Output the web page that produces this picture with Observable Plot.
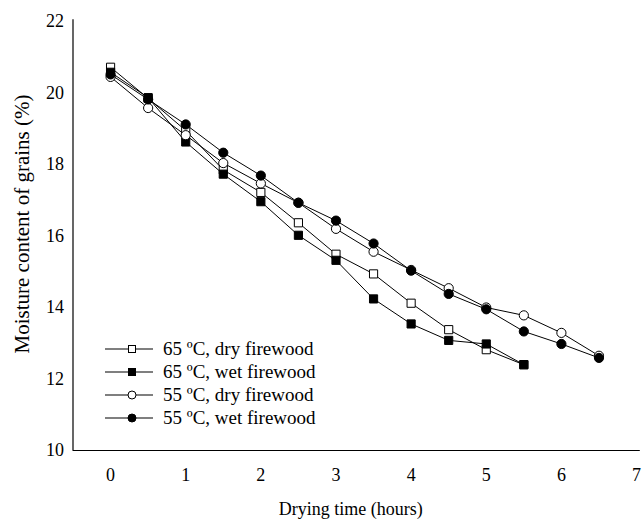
<!DOCTYPE html>
<html>
<head>
<meta charset="utf-8">
<script src="https://cdn.jsdelivr.net/npm/d3@7"></script>
<script src="https://cdn.jsdelivr.net/npm/@observablehq/plot@0.6"></script>
<style>
  html, body { margin: 0; padding: 0; background: #fff; }
  #wrap { position: relative; width: 644px; height: 522px; font-family: "Liberation Serif", "Times New Roman", serif; }
  #legend { position: absolute; left: 104px; top: 337px; }
  .row { display: flex; align-items: center; height: 23px; font-size: 19px; color: #000; }
  .row svg { margin-right: 9px; }
</style>
</head>
<body>
<div id="wrap"></div>
<script>
const times = [0, 0.5, 1, 1.5, 2, 2.5, 3, 3.5, 4, 4.5, 5, 5.5, 6, 6.5];
const dry65 = [20.72, 19.85, 18.95, 17.85, 17.22, 16.37, 15.49, 14.94, 14.12, 13.38, 12.82, 12.40];
const wet65 = [20.58, 19.87, 18.63, 17.73, 16.96, 16.02, 15.32, 14.24, 13.54, 13.08, 12.98, 12.40];
const dry55 = [20.45, 19.58, 18.82, 18.04, 17.47, 16.93, 16.20, 15.56, 15.05, 14.54, 14.00, 13.78, 13.29, 12.65];
const wet55 = [20.52, 19.82, 19.12, 18.33, 17.69, 16.93, 16.43, 15.79, 15.03, 14.38, 13.95, 13.33, 12.98, 12.59];
const seriesNames = ["65 ºC, dry firewood", "65 ºC, wet firewood", "55 ºC, dry firewood", "55 ºC, wet firewood"];
const seriesValues = [dry65, wet65, dry55, wet55];
const seriesSymbols = ["square", "square", "circle", "circle"];
const seriesFills = ["white", "black", "white", "black"];
const xTicks = [0, 1, 2, 3, 4, 5, 6, 7];
const yTicks = [10, 12, 14, 16, 18, 20, 22];
const xLabel = "Drying time (hours)";
const yLabel = "Moisture content of grains (%)";

const marks = [];
seriesValues.forEach((vals, i) => {
  const data = vals.map((v, j) => ({t: times[j], v}));
  marks.push(Plot.line(data, {x: "t", y: "v", stroke: "black", strokeWidth: 1}));
});
seriesValues.forEach((vals, i) => {
  const data = vals.map((v, j) => ({t: times[j], v}));
  marks.push(Plot.dot(data, {x: "t", y: "v", symbol: seriesSymbols[i], r: 4.6, fill: seriesFills[i], stroke: "black", strokeWidth: 1}));
});

const chart = Plot.plot({
  width: 644,
  height: 522,
  marginLeft: 72.5,
  marginRight: 4.2,
  marginTop: 21,
  marginBottom: 72,
  style: {fontFamily: '"Liberation Serif", "Times New Roman", serif', fontSize: "18px", background: "white", color: "black"},
  x: {domain: [-0.5, 7.05]},
  y: {domain: [10, 22]},
  marks: [
    Plot.axisX(xTicks, {tickSize: 0, tickPadding: 18, fontSize: 18, label: null}),
    Plot.axisY(yTicks, {tickSize: 0, tickPadding: 9, fontSize: 18, label: null}),
    Plot.ruleX([-0.5], {stroke: "black", strokeWidth: 1.2, y1: 10, y2: 22.05}),
    Plot.ruleY([10], {stroke: "black", strokeWidth: 1.2}),
    Plot.text([xLabel], {frameAnchor: "bottom", lineAnchor: "top", dy: 52, dx: -6, fontSize: 18, fill: "black"}),
    Plot.text([yLabel], {frameAnchor: "left", rotate: -90, textAnchor: "middle", lineAnchor: "bottom", dx: -44, dy: -12, fontSize: 21, fill: "black"}),
    ...marks
  ]
});
document.getElementById("wrap").appendChild(chart);

// Legend
const legend = document.createElement("div");
legend.id = "legend";
seriesNames.forEach((name, i) => {
  const row = document.createElement("div");
  row.className = "row";
  const s = d3.create("svg").attr("width", 50).attr("height", 12);
  s.append("line").attr("x1", 1).attr("x2", 49).attr("y1", 6).attr("y2", 6).attr("stroke", "black").attr("stroke-width", 1.2);
  if (seriesSymbols[i] === "square") {
    s.append("rect").attr("x", 24.5).attr("y", 2.5).attr("width", 7).attr("height", 7).attr("fill", seriesFills[i]).attr("stroke", "black");
  } else {
    s.append("circle").attr("cx", 28).attr("cy", 6).attr("r", 4).attr("fill", seriesFills[i]).attr("stroke", "black");
  }
  row.appendChild(s.node());
  const span = document.createElement("span");
  span.textContent = name;
  row.appendChild(span);
  legend.appendChild(row);
});
document.getElementById("wrap").appendChild(legend);
</script>
</body>
</html>
